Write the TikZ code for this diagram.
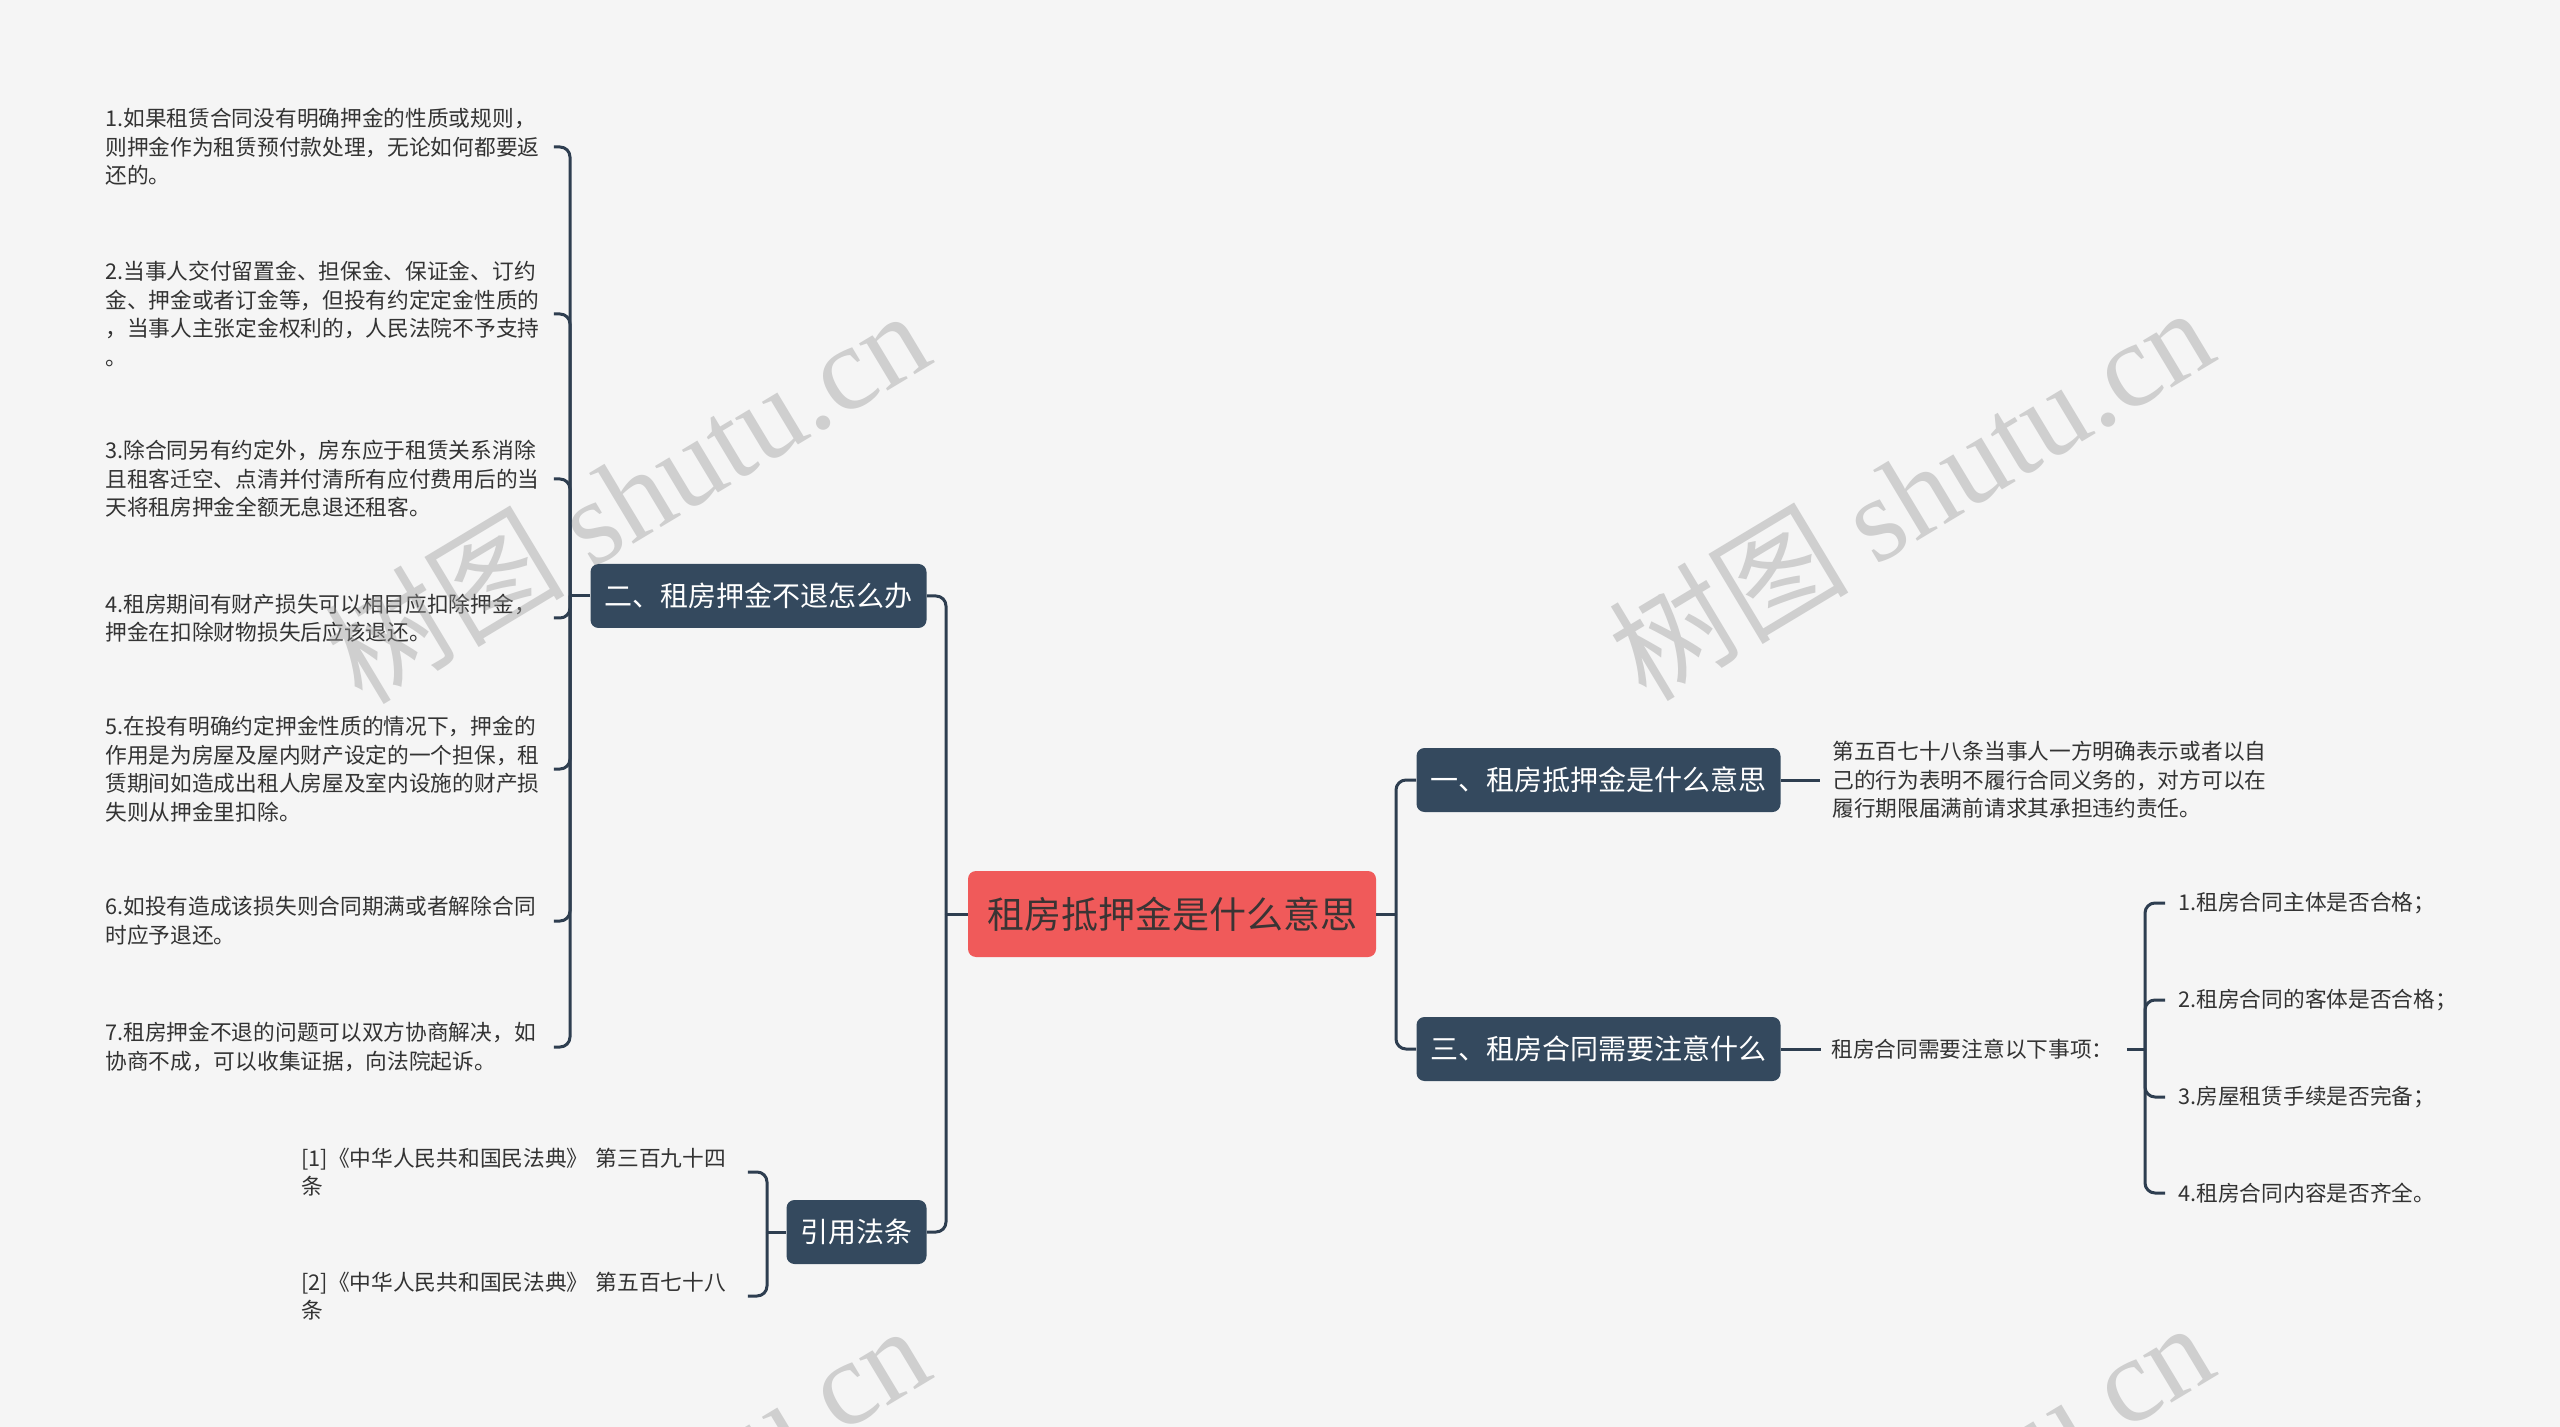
\documentclass[tikz,border=0pt]{standalone}
\usepackage{fontspec}
\setmainfont{Noto Sans CJK SC}
\newfontfamily\wmlat{Liberation Serif}
\usetikzlibrary{calc}
\definecolor{bg}{HTML}{F5F5F5}
\definecolor{dark}{HTML}{34495E}
\definecolor{lineclr}{HTML}{2E3E50}
\definecolor{rootred}{HTML}{F05A5A}
\definecolor{roottxt}{HTML}{3A3434}
\definecolor{txt}{HTML}{333333}
\definecolor{wm}{RGB}{150,150,150}
\begin{document}
\begin{tikzpicture}[x=0.5pt,y=-0.5pt,
  conn/.style={draw=lineclr,line width=1.5pt,rounded corners=5pt},
  rootbox/.style={fill=rootred,text=roottxt,rounded corners=4pt,inner xsep=9.5pt,inner ysep=0pt,minimum height=43pt,font=\fontsize{18.5pt}{22pt}\selectfont},
  topic/.style={fill=dark,text=white,rounded corners=4pt,inner xsep=7pt,inner ysep=0pt,minimum height=32pt,font=\fontsize{14pt}{16pt}\selectfont},
  leaf/.style={inner sep=0pt,text=txt,align=left,font=\fontsize{10.85pt}{14.25pt}\selectfont},
  wmark/.style={inner sep=0pt,text=wm,opacity=0.4,rotate=31,anchor=base west,font=\fontsize{60pt}{70pt}\selectfont},
]
\fill[bg] (0,0) rectangle (2560,1427);
\useasboundingbox (0,0) rectangle (2560,1427);

% central and main topics
\node[rootbox] (root) at (1172,914) {租房抵押金是什么意思};
\node[topic] (n2) at (758.5,596) {二、租房押金不退怎么办};
\node[topic] (n4) at (856.5,1232) {引用法条};
\node[topic] (n1) at (1598.5,780) {一、租房抵押金是什么意思};
\node[topic] (n3) at (1598.5,1049) {三、租房合同需要注意什么};

% left leaves of n2
\node[leaf,anchor=west,text width=222pt] (a1) at (105,147) {1.如果租赁合同没有明确押金的性质或规则，\\则押金作为租赁预付款处理，无论如何都要返\\还的。};
\node[leaf,anchor=west,text width=222pt] (a2) at (105,314) {2.当事人交付留置金、担保金、保证金、订约\\金、押金或者订金等，但投有约定定金性质的\\，当事人主张定金权利的，人民法院不予支持\\。};
\node[leaf,anchor=west,text width=222pt] (a3) at (105,479) {3.除合同另有约定外，房东应于租赁关系消除\\且租客迁空、点清并付清所有应付费用后的当\\天将租房押金全额无息退还租客。};
\node[leaf,anchor=west,text width=222pt] (a4) at (105,618) {4.租房期间有财产损失可以相目应扣除押金，\\押金在扣除财物损失后应该退还。};
\node[leaf,anchor=west,text width=222pt] (a5) at (105,769) {5.在投有明确约定押金性质的情况下，押金的\\作用是为房屋及屋内财产设定的一个担保，租\\赁期间如造成出租人房屋及室内设施的财产损\\失则从押金里扣除。};
\node[leaf,anchor=west,text width=222pt] (a6) at (105,921) {6.如投有造成该损失则合同期满或者解除合同\\时应予退还。};
\node[leaf,anchor=west,text width=222pt] (a7) at (105,1047) {7.租房押金不退的问题可以双方协商解决，如\\协商不成，可以收集证据，向法院起诉。};

% references
\node[leaf,anchor=west,text width=215pt] (r1) at (301,1172) {[1]《中华人民共和国民法典》 第三百九十四\\条};
\node[leaf,anchor=west,text width=215pt] (r2) at (301,1296) {[2]《中华人民共和国民法典》 第五百七十八\\条};

% right side
\node[leaf,anchor=west] (t1) at (1832,780) {第五百七十八条当事人一方明确表示或者以自\\己的行为表明不履行合同义务的，对方可以在\\履行期限届满前请求其承担违约责任。};
\node[leaf,anchor=west] (t3) at (1831,1049) {租房合同需要注意以下事项：};
\node[leaf,anchor=west] (c1) at (2178,903) {1.租房合同主体是否合格；};
\node[leaf,anchor=west] (c2) at (2178,1000) {2.租房合同的客体是否合格；};
\node[leaf,anchor=west] (c3) at (2178,1097) {3.房屋租赁手续是否完备；};
\node[leaf,anchor=west] (c4) at (2178,1193) {4.租房合同内容是否齐全。};

% connectors: root to main topics
\coordinate (LT) at (946,914);
\coordinate (RT) at (1396,914);
\draw[conn] (root.west) -- (LT);
\draw[conn] (LT) |- (n2.east);
\draw[conn] (LT) |- (n4.east);
\draw[conn] (root.east) -- (RT);
\draw[conn] (RT) |- (n1.west);
\draw[conn] (RT) |- (n3.west);

% n2 bracket
\coordinate (B2) at (570,596);
\draw[conn] (n2.west) -- (B2);
\foreach \k in {a1,a2,a3,a4,a5,a6,a7}{
  \draw[conn] (B2) |- ($(\k.east)+(4,0)$);
}
% n4 bracket
\coordinate (B4) at (767,1232);
\draw[conn] (n4.west) -- (B4);
\draw[conn] (B4) |- ($(r1.east)+(16,0)$);
\draw[conn] (B4) |- ($(r2.east)+(16,0)$);

% right connectors
\draw[conn] (n1.east) -- ($(t1.west)+(-12,0)$);
\draw[conn] (n3.east) -- ($(t3.west)+(-10,0)$);
\coordinate (B3) at (2145,1049);
\draw[conn] ($(t3.east)+(13,0)$) -- (B3);
\foreach \k in {c1,c2,c3,c4}{
  \draw[conn] (B3) |- ($(\k.west)+(-13,0)$);
}

% watermarks
\node[wmark] (w1) at (362,707) {树图 {\wmlat shutu.cn}};
\node[wmark] (w2) at (1646,704) {树图 {\wmlat shutu.cn}};
\node[wmark] (w3) at (362,1722) {树图 {\wmlat shutu.cn}};
\node[wmark] (w4) at (1646,1719) {树图 {\wmlat shutu.cn}};
\end{tikzpicture}
\end{document}
